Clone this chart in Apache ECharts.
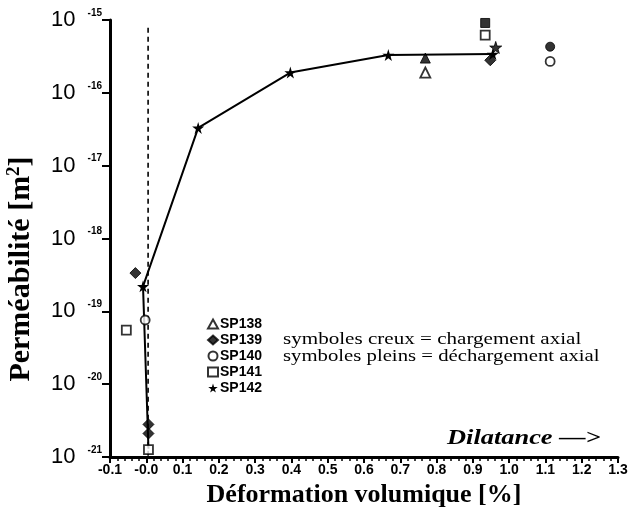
<!DOCTYPE html>
<html><head><meta charset="utf-8">
<script src="https://cdn.jsdelivr.net/npm/echarts@6/dist/echarts.min.js"></script>
<style>html,body{margin:0;padding:0;background:#fff}#c{width:629px;height:515px}</style>
</head><body><div id="c"></div>
<script>
// ---- data (x = volumetric strain %, y = permeability m2) ----
const xTicks = [-0.1,0.0,0.1,0.2,0.3,0.4,0.5,0.6,0.7,0.8,0.9,1.0,1.1,1.2,1.3];
const yTickExps = [-21,-20,-19,-18,-17,-16,-15];

const dashX = [0.005, 0.005];
const dashY = [7.8e-16, 1e-21];

const sp142X = [0.006, -0.009, 0.143, 0.397, 0.667, 0.955];
const sp142Y = [1.3e-21, 2.2e-19, 3.3e-17, 1.9e-16, 3.3e-16, 3.4e-16];
const sp142FullX = [0.963];
const sp142FullY = [4.2e-16];

const sp138OpenX = [0.769];
const sp138OpenY = [1.9e-16];
const sp138FullX = [0.769];
const sp138FullY = [3.0e-16];

const sp139FullX = [-0.03, 0.006, 0.006, 0.948];
const sp139FullY = [3.35e-19, 2.8e-21, 2.1e-21, 2.8e-16];

const sp140OpenX = [-0.003, 1.113];
const sp140OpenY = [7.6e-20, 2.7e-16];
const sp140FullX = [1.113];
const sp140FullY = [4.3e-16];

const sp141OpenX = [-0.055, 0.006, 0.934];
const sp141OpenY = [5.5e-20, 1.26e-21, 6.2e-16];
const sp141FullX = [0.934];
const sp141FullY = [9.1e-16];

const STAR = 'path://M50,0 L61,35 L98,35 L68,57 L79,91 L50,70 L21,91 L32,57 L2,35 L39,35 Z';
const zip = (xs, ys) => xs.map((x, i) => [x, ys[i]]);

const openStyle = {color: '#fff', borderColor: '#000', borderWidth: 1.8};
const fullStyle = {color: '#000', borderColor: '#000', borderWidth: 1};

function sc(name, xs, ys, symbol, style, size) {
  return {name, type: 'scatter', data: zip(xs, ys), symbol, symbolSize: size || 9,
    itemStyle: style, z: 5, emphasis: {disabled: true}};
}

const sp142Data = zip(sp142X, sp142Y).map((p, i) => i === 0 ? {value: p, symbol: 'none'} : p);

const chart = echarts.init(document.getElementById('c'), null, {renderer: 'canvas'});
chart.setOption({
  animation: false,
  backgroundColor: '#fff',
  grid: {left: 110, right: 11, top: 20, bottom: 58, containLabel: false, outerBoundsMode: 'none'},
  xAxis: {
    type: 'value', min: -0.1, max: 1.3, interval: 0.1,
    name: 'Déformation volumique [%]', nameLocation: 'middle', nameGap: 25,
    nameTextStyle: {fontFamily: 'Liberation Serif', fontWeight: 'bold', fontSize: 26, color: '#000'},
    axisLine: {show: true, lineStyle: {color: '#000', width: 3}},
    axisTick: {show: true, length: 6, lineStyle: {color: '#000', width: 2}},
    minorTick: {show: true, splitNumber: 5, length: 4, lineStyle: {color: '#000', width: 1.5}},
    splitLine: {show: false},
    axisLabel: {
      margin: 6, color: '#000', fontFamily: 'Liberation Sans', fontWeight: 'bold', fontSize: 14,
      formatter: v => Math.abs(v) < 1e-9 ? '-0.0' : v.toFixed(1)
    }
  },
  yAxis: {
    type: 'log', logBase: 10, min: 9.99e-22, max: 1e-15, splitNumber: 6,
    axisLine: {show: true, onZero: false, lineStyle: {color: '#000', width: 3}},
    axisTick: {show: true, length: 8, lineStyle: {color: '#000', width: 2}},
    minorTick: {show: false},
    splitLine: {show: false},
    axisLabel: {
      margin: 8, color: '#000',
      formatter: v => '{b|10}{s|' + Math.round(Math.log10(v)) + '}',
      rich: {
        b: {fontFamily: 'Liberation Sans', fontSize: 22, color: '#000', lineHeight: 24},
        s: {fontFamily: 'Liberation Sans', fontWeight: 'bold', fontSize: 10, color: '#000', verticalAlign: 'top', padding: [0, 0, 14, 12]}
      }
    }
  },
  legend: {
    orient: 'vertical', left: 202, top: 312, itemGap: 2, itemWidth: 10, itemHeight: 9,
    selectedMode: false,
    textStyle: {fontFamily: 'Liberation Sans', fontWeight: 'bold', fontSize: 14, color: '#000', padding: [0, 0, 0, -3]},
    data: [
      {name: 'SP138', icon: 'triangle'},
      {name: 'SP139', icon: 'diamond'},
      {name: 'SP140', icon: 'circle'},
      {name: 'SP141', icon: 'rect'},
      {name: 'SP142', icon: STAR, itemStyle: {color: '#000', borderColor: '#000'}}
    ]
  },
  graphic: [
    {type: 'text', x: 283, y: 340, scaleX: 1.24, style: {text: 'symboles creux = chargement axial', font: '17px "Liberation Serif"', fill: '#000', verticalAlign: 'middle'}},
    {type: 'text', x: 283, y: 357, scaleX: 1.22, style: {text: 'symboles pleins = déchargement axial', font: '17px "Liberation Serif"', fill: '#000', verticalAlign: 'middle'}},
    {type: 'text', x: 447, y: 438, scaleX: 1.2, style: {text: 'Dilatance —>', font: 'italic bold 22px "Liberation Serif"', fill: '#000', verticalAlign: 'middle'}},
    {type: 'text', x: 21, y: 269, rotation: Math.PI / 2, style: {
      text: 'Perméabilité [m{sup|2}]', font: 'bold 30px "Liberation Serif"', fill: '#000',
      align: 'center', verticalAlign: 'middle',
      rich: {sup: {font: 'bold 19px "Liberation Serif"', fill: '#000', verticalAlign: 'top', padding: [0, 0, 13, 0]}}
    }}
  ],
  series: [
    {name: 'dash', type: 'line', data: zip(dashX, dashY), symbol: 'none',
      lineStyle: {color: '#000', width: 1.6, type: [5, 4]}, z: 2, silent: true},
    {name: 'SP142', type: 'line', data: sp142Data, symbol: STAR, symbolSize: 12,
      itemStyle: {color: '#000'}, lineStyle: {color: '#000', width: 2}, z: 4},
    sc('SP142 plein', sp142FullX, sp142FullY, STAR, fullStyle, 12),
    sc('SP138', sp138OpenX, sp138OpenY, 'triangle', openStyle, 10),
    sc('SP138 plein', sp138FullX, sp138FullY, 'triangle', fullStyle, 10),
    sc('SP139', sp139FullX, sp139FullY, 'diamond', fullStyle, 11),
    sc('SP140', sp140OpenX, sp140OpenY, 'circle', openStyle, 9),
    sc('SP140 plein', sp140FullX, sp140FullY, 'circle', fullStyle, 9),
    sc('SP141', sp141OpenX, sp141OpenY, 'rect', openStyle, 9),
    sc('SP141 plein', sp141FullX, sp141FullY, 'rect', fullStyle, 9)
  ]
});
</script></body></html>
